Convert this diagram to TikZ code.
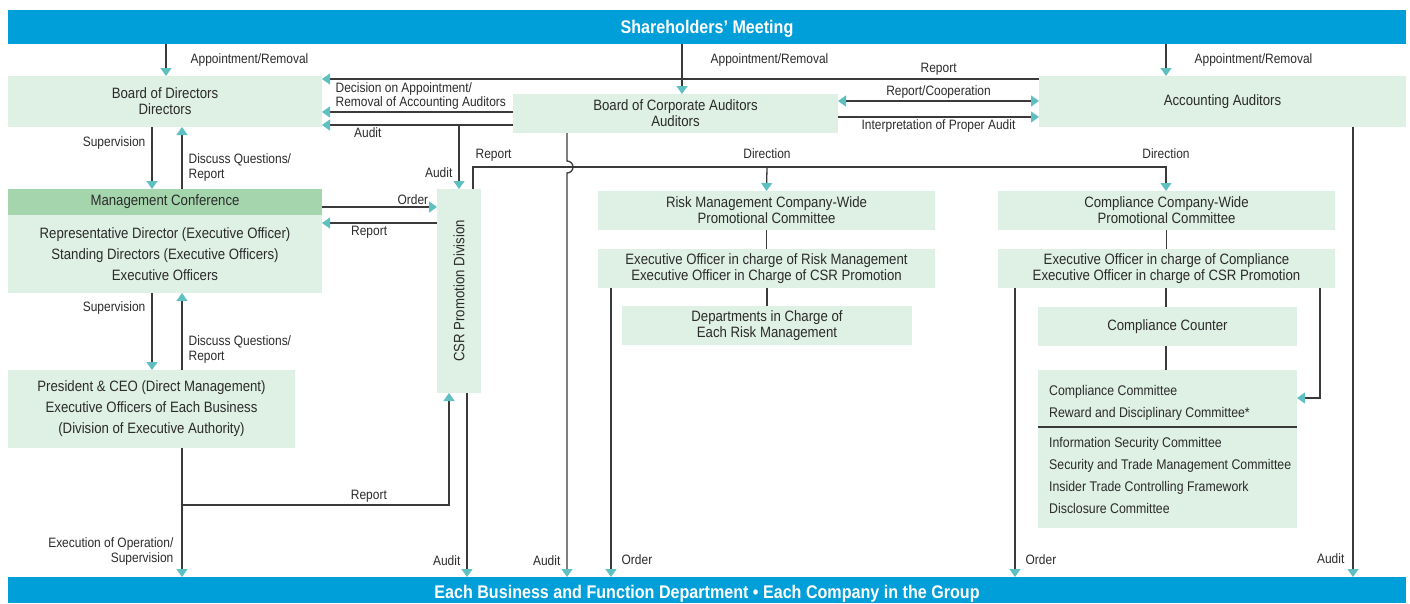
\documentclass[tikz,border=0pt]{standalone}
\usepackage{fontspec}
\setmainfont{Liberation Sans}[FakeStretch=0.88]
\usepackage{tikz}
\usetikzlibrary{arrows.meta,positioning}

\definecolor{barblue}{HTML}{009FDA}
\definecolor{boxgreen}{HTML}{DFF0E4}
\definecolor{headgreen}{HTML}{A5D5AD}
\definecolor{tipteal}{HTML}{5FC0C1}
\definecolor{linegray}{HTML}{3A3A3A}
\definecolor{textgray}{HTML}{2B2B2B}

\begin{document}
\begin{tikzpicture}[
        x=1pt, y=-1pt,
        >={Triangle[width=11pt,length=8pt,color=tipteal]},
        bar/.style={fill=barblue, text=white, font=\fontsize{18.3}{20}\selectfont\bfseries, inner sep=0pt, outer sep=0pt, text depth=0pt},
        box/.style={fill=boxgreen, text=textgray, align=center, font=\fontsize{15}{16}\selectfont, inner sep=0pt, outer sep=0pt},
        headbox/.style={box, fill=headgreen},
        tallbox/.style={box, font=\fontsize{15}{21}\selectfont},
        lbl/.style={text=textgray, font=\fontsize{13.6}{15}\selectfont, inner sep=2pt},
        link/.style={draw=linegray, line width=1.3pt},
        arrow/.style={link, ->}
    ]
        \useasboundingbox (0,0) rectangle (1410,603);

        % bars
        \node[bar, minimum width=1398pt, minimum height=34pt, text height=13pt] (share) at (707,27) {Shareholders’ Meeting};
        \node[bar, minimum width=1398pt, minimum height=26pt, text height=17pt] (bottom) at (707,590) {Each Business and Function Department • Each Company in the Group};

        % top row
        \node[box, minimum width=314pt, minimum height=51pt] (bod) at (165,101.5) {Board of Directors\\Directors};
        \node[box, minimum width=325pt, minimum height=39pt] (bca) at (675.5,113.5) {Board of Corporate Auditors\\Auditors};
        \node[box, minimum width=367pt, minimum height=51pt] (acc) at (1222.5,101.5) {Accounting Auditors};

        % executive side
        \node[headbox, minimum width=314pt, minimum height=26pt] (mhead) at (165,202) {Management Conference};
        \node[tallbox, minimum width=314pt, minimum height=78pt] (mgmt) at (165,254) {Representative Director (Executive Officer)\\Standing Directors (Executive Officers)\\Executive Officers};
        \node[tallbox, minimum width=287pt, minimum height=78pt] (pres) at (151.5,409) {President \& CEO (Direct Management)\\Executive Officers of Each Business\\(Division of Executive Authority)};
        \node[box, minimum width=44pt, minimum height=204pt] (csr) at (459,291) {};
        \node[rotate=90, text=textgray, font=\fontsize{15}{16}\selectfont] (csrtext) at (csr.center) {CSR Promotion Division};

        % risk management
        \node[box, minimum width=337pt, minimum height=39pt] (rcw) at (766.5,210.5) {Risk Management Company-Wide\\Promotional Committee};
        \node[box, minimum width=337pt, minimum height=39pt] (reo) at (766.5,268.5) {Executive Officer in charge of Risk Management\\Executive Officer in Charge of CSR Promotion};
        \node[box, minimum width=290pt, minimum height=39pt] (rdep) at (767,325.5) {Departments in Charge of\\Each Risk Management};

        % compliance
        \node[box, minimum width=337pt, minimum height=39pt] (ccw) at (1166.5,210.5) {Compliance Company-Wide\\Promotional Committee};
        \node[box, minimum width=337pt, minimum height=39pt] (ceo) at (1166.5,268.5) {Executive Officer in charge of Compliance\\Executive Officer in charge of CSR Promotion};
        \node[box, minimum width=259pt, minimum height=39pt] (ccount) at (1167.5,326.5) {Compliance Counter};
        \node[box, minimum width=259pt, minimum height=158pt] (comm) at (1167.5,449) {};
        \node[text=textgray, align=left, anchor=west, inner sep=0pt, font=\fontsize{14}{22}\selectfont] (commlist) at (1049,449) {Compliance Committee\\Reward and Disciplinary Committee*\\[8pt]Information Security Committee\\Security and Trade Management Committee\\Insider Trade Controlling Framework\\Disclosure Committee};
        \draw[link] (comm.west |- 0,427) -- (comm.east |- 0,427);

        % shareholders
        \draw[arrow] (share.south -| 166,0) -- (bod.north -| 166,0) node[lbl, midway, right=22pt] {Appointment/Removal};
        \draw[arrow] (share.south -| 682,0) -- (bca.north -| 682,0) node[lbl, pos=0.32, right=26pt] {Appointment/Removal};
        \draw[arrow] (share.south -| 1166,0) -- (acc.north -| 1166,0) node[lbl, midway, right=26pt] {Appointment/Removal};

        % auditors
        \draw[arrow] (acc.west |- 0,79) -- (bod.east |- 0,79) node[lbl, pos=0.14, above=1pt] {Report};
        \draw[arrow] (bca.west |- 0,112) -- (bod.east |- 0,112) node[lbl, pos=1, anchor=south west, align=left, xshift=11pt, font=\fontsize{13.6}{14}\selectfont] {Decision on Appointment/\\Removal of Accounting Auditors};
        \draw[arrow] (bca.west |- 0,125) -- (bod.east |- 0,125) node[lbl, pos=0.76, below] {Audit};
        \coordinate (auditsplit) at (459,125);
        \draw[arrow] (auditsplit) -- (csr.north -| auditsplit) node[lbl, pos=0.75, left=4pt] {Audit};
        \draw[link, <->] (bca.east |- 0,101) -- (acc.west |- 0,101) node[lbl, midway, above] {Report/Cooperation};
        \draw[arrow] (bca.east |- 0,117) -- (acc.west |- 0,117) node[lbl, midway, below] {Interpretation of Proper Audit};

        % directors and executives
        \draw[arrow] (bod.south -| 152,0) -- (mhead.north -| 152,0) node[lbl, pos=0.25, left=4pt] {Supervision};
        \draw[arrow] (mhead.north -| 182,0) -- (bod.south -| 182,0) node[lbl, pos=0.35, right=4pt, align=left] {Discuss Questions/\\Report};
        \draw[arrow] (mgmt.south -| 152,0) -- (pres.north -| 152,0) node[lbl, pos=0.2, left=4pt] {Supervision};
        \draw[arrow] (pres.north -| 182,0) -- (mgmt.south -| 182,0) node[lbl, pos=0.27, right=4pt, align=left] {Discuss Questions/\\Report};
        \draw[arrow] (mhead.east |- 0,207) -- (csr.west |- 0,207) node[lbl, pos=0.79, above] {Order};
        \draw[arrow] (csr.west |- 0,223) -- (mgmt.east |- 0,223) node[lbl, pos=0.59, below] {Report};
        \draw[arrow] (pres.south -| 182,0) -- (bottom.north -| 182,0) node[lbl, pos=0.8, left=6pt, align=right] {Execution of Operation/\\Supervision};
        \coordinate (repsplit) at (182,505);
        \draw[arrow] (repsplit) -| (csr.south -| 449,0) node[lbl, pos=0.35, above] {Report};
        \draw[arrow] (csr.south -| 467,0) -- (bottom.north -| 467,0) node[lbl, pos=0.91, left=4pt] {Audit};

        % direction from CSR division
        \coordinate (dirsplit) at (767,167);
        \draw[arrow] (csr.north -| 473,0) -- (473,167) node[lbl, anchor=south west, yshift=3pt] {Report} -- (1166,167) node[lbl, above=6pt] {Direction} -- (ccw.north -| 1166,0);
        \draw[arrow] (dirsplit) node[lbl, above=6pt] {Direction} -- (rcw.north);
        \draw[arrow] (bca.south -| 567,0) -- (567,161) arc(-90:90:6) -- (bottom.north -| 567,0) node[lbl, pos=0.96, left=4pt] {Audit};

        % risk column
        \draw[link] (rcw.south) -- (reo.north);
        \draw[link] (reo.south -| 767,0) -- (rdep.north);
        \draw[arrow] (reo.south -| 611,0) -- (bottom.north -| 611,0) node[lbl, pos=0.94, right=8pt] {Order};

        % compliance column
        \draw[link] (ccw.south) -- (ceo.north);
        \draw[link] (ceo.south -| 1166,0) -- (ccount.north -| 1166,0);
        \draw[link] (ccount.south -| 1166,0) -- (comm.north -| 1166,0);
        \draw[arrow] (ceo.south -| 1015,0) -- (bottom.north -| 1015,0) node[lbl, pos=0.94, right=8pt] {Order};
        \draw[arrow] (ceo.south -| 1320,0) |- (comm.east |- 0,398);
        \draw[arrow] (acc.south -| 1353,0) -- (bottom.north -| 1353,0) node[lbl, pos=0.96, left=6pt] {Audit};
    \end{tikzpicture}
\end{document}
